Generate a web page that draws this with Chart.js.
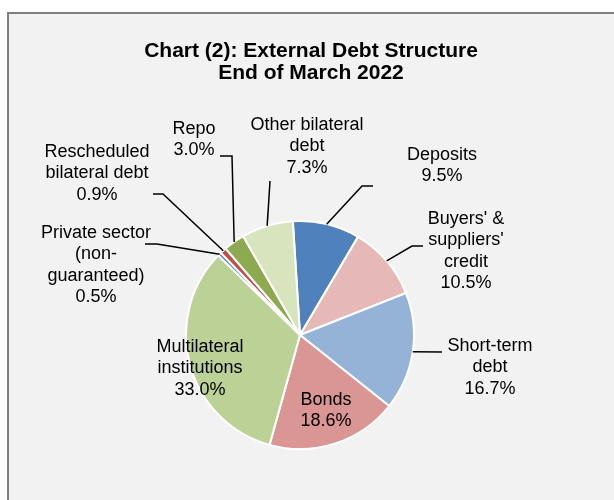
<!DOCTYPE html>
<html>
<head>
<meta charset="utf-8">
<script src="https://cdn.jsdelivr.net/npm/chart.js@4"></script>
<style>
  html, body { margin: 0; padding: 0; background: #fff; }
  #wrap { position: relative; width: 614px; height: 500px; }
</style>
</head>
<body>
<div id="wrap"><canvas id="debt-pie"></canvas></div>
<script>
// External debt structure, end of March 2022 (% of total)
const categories = [
  'Deposits',
  "Buyers' & suppliers' credit",
  'Short-term debt',
  'Bonds',
  'Multilateral institutions',
  'Private sector (non-guaranteed)',
  'Rescheduled bilateral debt',
  'Repo',
  'Other bilateral debt'
];
const shares = [9.5, 10.5, 16.7, 18.6, 33.0, 0.5, 0.9, 3.0, 7.3];

// how each category name is broken over lines in its label
const nameLines = [
  ['Deposits'],
  ["Buyers' &", "suppliers'", 'credit'],
  ['Short-term', 'debt'],
  ['Bonds'],
  ['Multilateral', 'institutions'],
  ['Private sector', '(non-', 'guaranteed)'],
  ['Rescheduled', 'bilateral debt'],
  ['Repo'],
  ['Other bilateral', 'debt']
];

const colors = [
  '#4f81bd', '#e6b9b8', '#95b3d7', '#d99694', '#bcd196',
  '#4f81bd', '#c0504d', '#8eaa50', '#d7e4bd'
];

// label centre (x, y of first line) and leader line points after the slice edge
const labelPos = [
  { x: 442, y: 155, leader: [[362, 186], [373, 186]] },
  { x: 466, y: 219, leader: [[412, 246], [423, 246]] },
  { x: 490, y: 346, leader: [[442, 352]] },
  { x: 326, y: 400, leader: null },
  { x: 200, y: 347, leader: null },
  { x: 96,  y: 233, leader: [[157, 244], [145, 244]] },
  { x: 97,  y: 152, leader: [[163, 194], [153, 194]] },
  { x: 194, y: 129, leader: [[232, 156], [220, 156]] },
  { x: 307, y: 125, leader: [[270, 181]] }
];

const FONT = '"Liberation Sans", Arial, Helvetica, sans-serif';

const framePlugin = {
  id: 'frame',
  beforeDraw(chart) {
    const c = chart.ctx;
    c.save();
    c.fillStyle = '#ffffff';
    c.fillRect(0, 0, chart.width, chart.height);
    c.fillStyle = '#f2f2f2';
    c.fillRect(9, 14, chart.width, chart.height);
    c.strokeStyle = '#7f7f7f';
    c.lineWidth = 2;
    c.beginPath();
    c.moveTo(8, chart.height + 2);
    c.lineTo(8, 13);
    c.lineTo(chart.width + 2, 13);
    c.stroke();

    c.fillStyle = '#000';
    c.font = 'bold 21px ' + FONT;
    c.textAlign = 'center';
    c.textBaseline = 'middle';
    c.fillText('Chart (2): External Debt Structure', 311, 51);
    c.fillText('End of March 2022', 311, 73);
    c.restore();
  }
};

const labelPlugin = {
  id: 'sliceLabels',
  afterDatasetsDraw(chart) {
    const c = chart.ctx;
    const arcs = chart.getDatasetMeta(0).data;
    c.save();
    arcs.forEach((arc, i) => {
      const pos = labelPos[i];
      if (pos.leader) {
        const mid = (arc.startAngle + arc.endAngle) / 2;
        c.strokeStyle = '#000';
        c.lineWidth = 1.5;
        c.beginPath();
        c.moveTo(arc.x + Math.cos(mid) * arc.outerRadius, arc.y + Math.sin(mid) * arc.outerRadius);
        pos.leader.forEach(p => c.lineTo(p[0], p[1]));
        c.stroke();
      }
      const lines = nameLines[i].concat([shares[i].toFixed(1) + '%']);
      c.fillStyle = '#000';
      c.font = '18px ' + FONT;
      c.textAlign = 'center';
      c.textBaseline = 'middle';
      lines.forEach((t, k) => c.fillText(t, pos.x, pos.y + k * 21.5));
    });
    c.restore();
  }
};

const ctx = document.getElementById('debt-pie');

new Chart(ctx, {
  type: 'pie',
  data: {
    labels: categories,
    datasets: [{
      data: shares,
      backgroundColor: colors,
      borderColor: '#ffffff',
      borderWidth: 2,
      radius: 114
    }]
  },
  options: {
    responsive: true,
    maintainAspectRatio: false,
    animation: false,
    rotation: -3.6,
    layout: { padding: { top: 219, bottom: 49, left: 100, right: 114 } },
    plugins: {
      legend: { display: false },
      tooltip: { enabled: false },
      title: { display: false }
    }
  },
  plugins: [framePlugin, labelPlugin]
});
</script>
</body>
</html>
